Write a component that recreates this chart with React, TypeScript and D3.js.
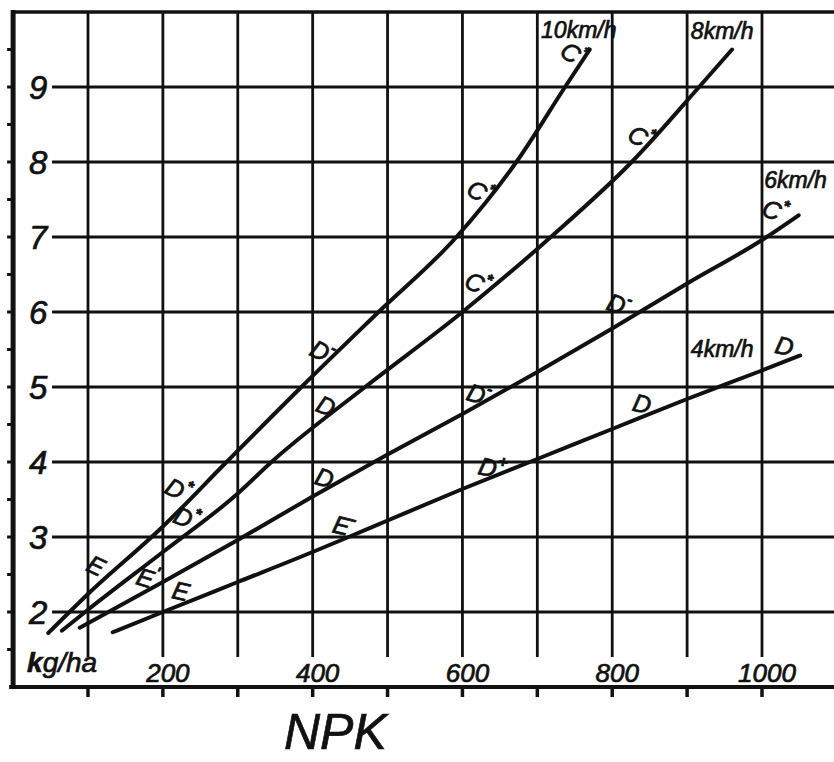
import React, { useEffect, useRef } from 'react';
import * as d3 from 'd3';

const W = 834;
const H = 762;

// curves: NPK (kg/ha) on x, value on y, one pair of arrays per speed
const speeds = ['10km/h', '8km/h', '6km/h', '4km/h'];
const npk10 = [47, 100, 200, 285, 385, 488, 592, 672, 737, 770];
const val10 = [1.72, 2.24, 3.14, 4.0, 5.0, 6.0, 7.0, 8.0, 9.0, 9.5];
const npk8 = [65, 100, 200, 300, 345, 470, 600, 718, 826, 916, 960];
const val8 = [1.75, 2.03, 2.8, 3.58, 4.0, 5.0, 6.0, 7.0, 8.0, 9.0, 9.5];
const npk6 = [89, 100, 200, 300, 400, 500, 600, 700, 800, 900, 1000, 1049];
const val6 = [1.79, 1.85, 2.4, 2.96, 3.54, 4.1, 4.64, 5.2, 5.78, 6.38, 6.96, 7.29];
const npk4 = [133, 200, 300, 400, 448, 500, 600, 700, 800, 900, 1000, 1051];
const val4 = [1.73, 2.0, 2.4, 2.8, 3.0, 3.22, 3.64, 4.04, 4.44, 4.84, 5.22, 5.42];

// where each speed name is written (data units, left/baseline)
const speedNpk = [705, 905, 1003, 905];
const speedVal = [9.66, 9.64, 7.65, 5.4];

// class marks written along the curves (centre, data units)
const markText = ['E', 'D*', 'D-', 'C*', 'C*', 'D*', 'D', 'C*', 'C*', "E'", 'D', 'D-', 'D-', 'C*', 'E', 'E-', 'D+', 'D', 'D'];
const markSeries = [0, 0, 0, 0, 0, 1, 1, 1, 1, 2, 2, 2, 2, 2, 3, 3, 3, 3, 3];
const markNpk = [111, 220, 413, 623, 748, 231, 418, 620, 838, 179, 416, 622, 809, 1017, 224, 442, 640, 840, 1030];
const markVal = [2.62, 3.63, 5.47, 7.6, 9.44, 3.25, 4.75, 6.38, 8.33, 2.45, 3.79, 4.9, 6.1, 7.35, 2.28, 3.15, 3.92, 4.78, 5.55];

const xTicks = [200, 400, 600, 800, 1000];
const yTicks = [2, 3, 4, 5, 6, 7, 8, 9];

const FONT = '"Liberation Sans", Arial, sans-serif';
const INK = '#111';

export default function App() {
  const svgRef = useRef<SVGSVGElement>(null);

  useEffect(() => {
    document.body.style.margin = '0';
    if (!svgRef.current) return;
    const svg = d3.select(svgRef.current);
    svg.selectAll('*').remove();

    const x = d3.scaleLinear().domain([0, 1100]).range([13.1, 13.1 + 1100 * 0.7489]);
    const y = d3.scaleLinear().domain([1, 10]).range([687, 12]);

    svg.append('rect').attr('width', W).attr('height', H).attr('fill', '#fff');

    // grid
    const grid = svg.append('g').attr('stroke', INK).attr('stroke-width', 2.8);
    d3.range(100, 1001, 100).forEach(v => {
      grid.append('line')
        .attr('x1', x(v)).attr('x2', x(v))
        .attr('y1', y(10)).attr('y2', y(1.4));
    });
    yTicks.forEach(v => {
      grid.append('line')
        .attr('x1', x(52)).attr('x2', W)
        .attr('y1', y(v)).attr('y2', y(v));
    });

    // frame: left axis, top border, bottom axis
    svg.append('line').attr('x1', x(0)).attr('x2', x(0)).attr('y1', y(10) - 2).attr('y2', y(1) + 2)
      .attr('stroke', INK).attr('stroke-width', 5);
    svg.append('line').attr('x1', x(0)).attr('x2', W).attr('y1', y(10)).attr('y2', y(10))
      .attr('stroke', INK).attr('stroke-width', 3.5);
    svg.append('line').attr('x1', x(0) - 4).attr('x2', W).attr('y1', y(1)).attr('y2', y(1))
      .attr('stroke', INK).attr('stroke-width', 4);

    // small ticks
    d3.range(1.5, 9.6, 0.5).forEach(v => {
      svg.append('line').attr('x1', x(0) - 6).attr('x2', x(0))
        .attr('y1', y(v)).attr('y2', y(v))
        .attr('stroke', INK).attr('stroke-width', 3);
    });
    d3.range(100, 1001, 100).forEach(v => {
      svg.append('line').attr('x1', x(v)).attr('x2', x(v))
        .attr('y1', y(1)).attr('y2', y(1) + 10)
        .attr('stroke', INK).attr('stroke-width', 3.5);
    });

    // hand lettering: italic with a thin outline to thicken the strokes
    const pen = (sel: d3.Selection<SVGTextElement, unknown, null, undefined>, size: number) =>
      sel.attr('font-family', FONT).attr('font-style', 'italic').attr('font-size', size)
        .attr('fill', INK).attr('stroke', INK).attr('stroke-width', 0.7);

    // tick labels
    yTicks.forEach(v => {
      pen(svg.append('text'), 33)
        .attr('x', x(0) + 25).attr('y', y(v))
        .attr('text-anchor', 'middle').attr('dominant-baseline', 'central')
        .text(v);
    });
    xTicks.forEach(v => {
      pen(svg.append('text'), 26)
        .attr('x', x(v) + 5).attr('y', y(1) - 5)
        .attr('text-anchor', 'middle')
        .text(v);
    });
    const unit = pen(svg.append('text'), 28)
      .attr('x', x(0) + 14).attr('y', y(1) - 15);
    unit.append('tspan').attr('font-weight', 'bold').text('k');
    unit.append('tspan').text('g/ha');

    pen(svg.append('text'), 50)
      .attr('x', 284).attr('y', 749)
      .text('NPK');

    // curves
    const series = [
      { xs: npk10, ys: val10 },
      { xs: npk8, ys: val8 },
      { xs: npk6, ys: val6 },
      { xs: npk4, ys: val4 },
    ];
    const line = d3.line().curve(d3.curveMonotoneX);

    series.forEach(s => {
      const pts: [number, number][] = s.xs.map((v, i) => [x(v), y(s.ys[i])]);
      svg.append('path')
        .attr('d', line(pts))
        .attr('fill', 'none').attr('stroke', INK)
        .attr('stroke-width', 4).attr('stroke-linecap', 'round');
    });

    // speed names
    speeds.forEach((name, i) => {
      pen(svg.append('text'), 23)
        .attr('x', x(speedNpk[i])).attr('y', y(speedVal[i]))
        .text(name);
    });

    // local screen angle of a curve at a given x value
    const angleAt = (s: { xs: number[]; ys: number[] }, v: number) => {
      let i = d3.bisectLeft(s.xs, v) - 1;
      i = Math.max(0, Math.min(s.xs.length - 2, i));
      const dx = x(s.xs[i + 1]) - x(s.xs[i]);
      const dy = y(s.ys[i + 1]) - y(s.ys[i]);
      return (Math.atan2(dy, dx) * 180) / Math.PI;
    };

    markText.forEach((t, i) => {
      const s = series[markSeries[i]];
      const rot = -angleAt(s, markNpk[i]) * 0.6;
      const txt = pen(svg.append('text'), 25)
        .attr('transform', `translate(${x(markNpk[i])},${y(markVal[i])}) rotate(${rot})`)
        .attr('text-anchor', 'middle').attr('dominant-baseline', 'central');
      txt.append('tspan').text(t[0]);
      if (t.length > 1) {
        txt.append('tspan')
          .attr('font-size', 16).attr('dy', -9).attr('font-weight', 'bold')
          .text(t.slice(1));
      }
    });
  }, []);

  return <svg ref={svgRef} width={W} height={H} style={{ display: 'block' }} />;
}
